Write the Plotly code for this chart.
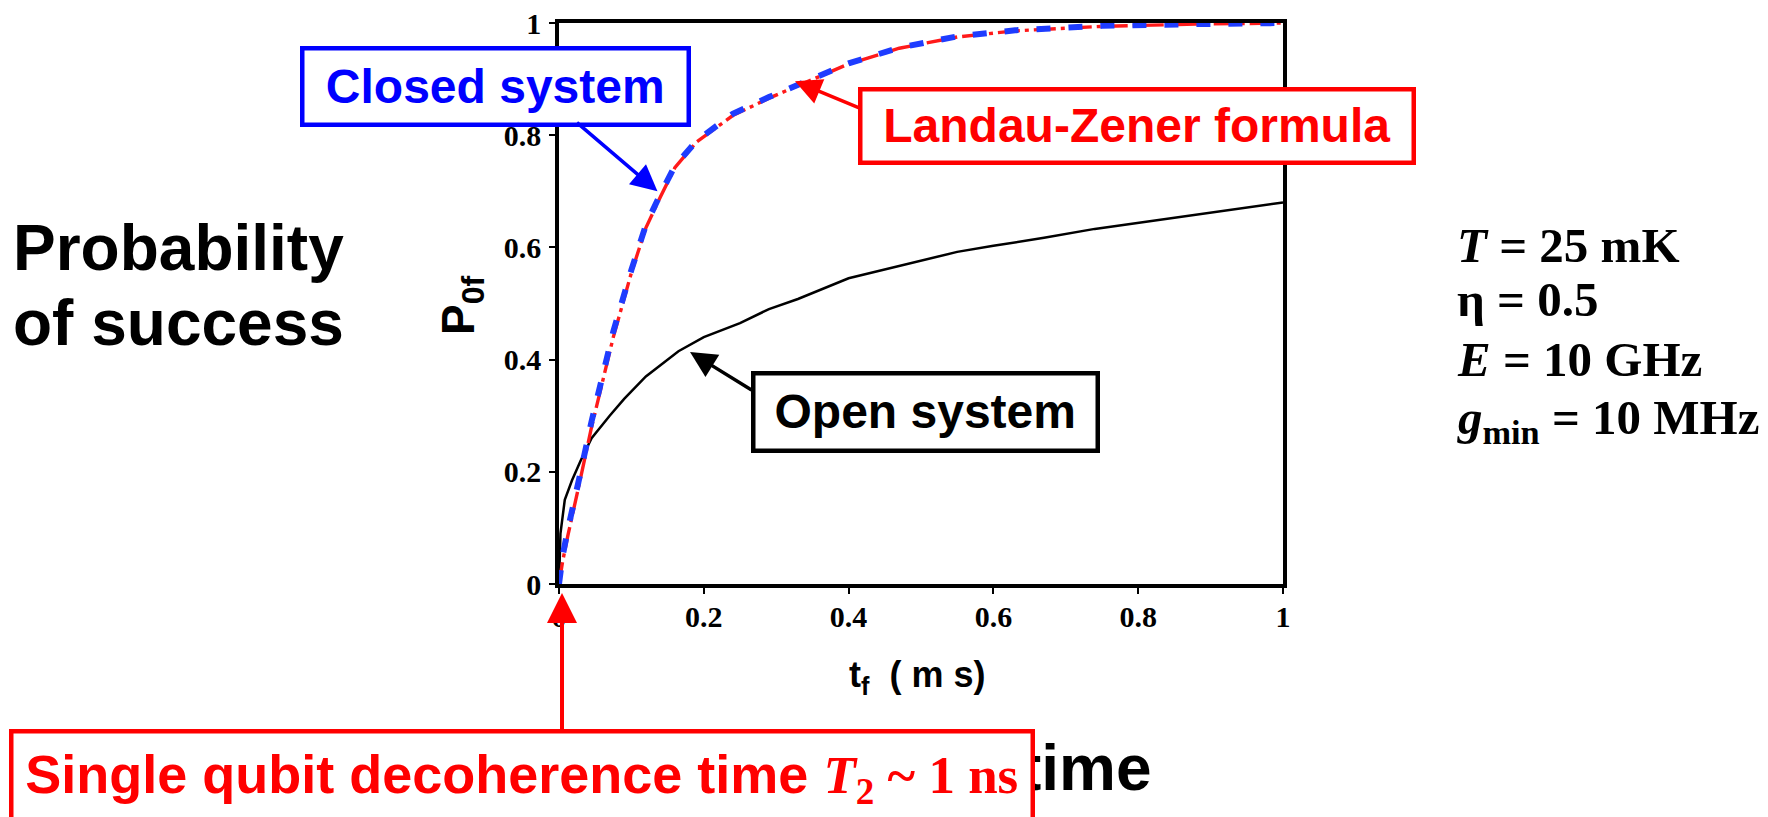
import plotly.graph_objects as go

# ---------------- data ----------------
open_x = [0, 0.002, 0.008, 0.018, 0.03, 0.045, 0.07, 0.09, 0.12, 0.165, 0.2, 0.25, 0.29, 0.33,
          0.4, 0.48, 0.55, 0.6, 0.67, 0.74, 0.85, 1.0]
open_y = [0, 0.09, 0.15, 0.185, 0.22, 0.26, 0.30, 0.33, 0.37, 0.415, 0.44, 0.465, 0.49, 0.508,
          0.545, 0.57, 0.592, 0.603, 0.617, 0.633, 0.653, 0.68]

closed_x = [0, 0.005, 0.012, 0.02, 0.03, 0.045, 0.06, 0.075, 0.1, 0.12, 0.14, 0.16, 0.19, 0.24,
            0.29, 0.33, 0.4, 0.47, 0.55, 0.63, 0.75, 0.88, 1.0]
closed_y = [0, 0.05, 0.096, 0.14, 0.2, 0.29, 0.37, 0.45, 0.56, 0.64, 0.695, 0.745, 0.79, 0.838,
            0.868, 0.89, 0.928, 0.956, 0.976, 0.987, 0.995, 0.998, 1.0]

lz_x = closed_x
lz_y = [0, 0.04, 0.085, 0.13, 0.19, 0.28, 0.36, 0.44, 0.555, 0.635, 0.69, 0.742, 0.788, 0.835,
        0.866, 0.888, 0.927, 0.955, 0.975, 0.986, 0.994, 0.998, 1.0]

tick_vals = [0, 0.2, 0.4, 0.6, 0.8, 1]
tick_text = ["0", "0.2", "0.4", "0.6", "0.8", "1"]

# ---------------- layout helpers (page pixel coordinates) ----------------
FW, FH = 1768, 817
OFF = 8            # default body margin of the html page
L, R, T, B = 559, 1283, 23, 584
W, H = R - L, B - T


def px(x):
    return (x - L) / W


def py(y):
    return (B - y) / H


SANS = "Liberation Sans, Arial, sans-serif"
SERIF = "Liberation Serif, Times New Roman, serif"
BLUE = "#0000ff"
RED = "#ff0000"

fig = go.Figure()
fig.add_trace(go.Scatter(x=open_x, y=open_y, mode="lines", name="Open system",
                         line=dict(color="black", width=2.5)))
fig.add_trace(go.Scatter(x=lz_x, y=lz_y, mode="lines", name="Landau-Zener formula",
                         line=dict(color="#ff1a1a", width=3.4, dash="22px,5px,4px,5px")))
fig.add_trace(go.Scatter(x=closed_x, y=closed_y, mode="lines", name="Closed system",
                         line=dict(color="#1e3cff", width=6, dash="14px,18px")))

ann = []

# big texts
ann.append(dict(text="Probability", x=px(11), y=py(248), xanchor="left", yanchor="middle",
                font=dict(family=SANS, size=64, color="black", weight="bold")))
ann.append(dict(text="of success", x=px(11), y=py(323), xanchor="left", yanchor="middle",
                font=dict(family=SANS, size=64, color="black", weight="bold")))
ann.append(dict(text="time", x=px(1018), y=py(768), xanchor="left", yanchor="middle",
                font=dict(family=SANS, size=64, color="black", weight="bold")))

# parameter list
params = [("<i>T</i> = 25 mK", 246), ("η = 0.5", 299), ("<i>E</i> = 10 GHz", 359),
          ("<i>g</i><sub>min</sub> = 10 MHz", 420)]
for txt, yy in params:
    ann.append(dict(text=txt, x=px(1455), y=py(yy), xanchor="left", yanchor="middle",
                    font=dict(family=SERIF, size=49, color="black", weight="bold")))

# axis titles
ann.append(dict(text="P<sub>0f</sub>", x=px(461), y=py(305), xanchor="center", yanchor="middle",
                textangle=-90, font=dict(family=SANS, size=46, color="black", weight="bold")))
ann.append(dict(text="t<sub>f</sub>  ( m s)", x=px(917), y=py(677), xanchor="center",
                yanchor="middle", font=dict(family=SANS, size=36, color="black", weight="bold")))


def box(text, x0, x1, y0, y1, color, size, bw=4.5):
    return dict(text=text, x=px((x0 + x1) / 2), y=py((y0 + y1) / 2), xanchor="center",
                yanchor="middle", width=x1 - x0 - bw, height=y1 - y0 - bw, borderpad=0,
                bordercolor=color, borderwidth=bw, bgcolor="white",
                font=dict(family=SANS, size=size, color=color, weight="bold"))


ann.append(box("Closed system", 302, 688, 48, 124, BLUE, 48))
ann.append(box("Landau-Zener formula", 860, 1413, 90, 163, RED, 48))
ann.append(box("Open system", 753, 1097, 373, 450, "black", 48))
ann.append(box("Single qubit decoherence time "
               "<span style='font-family:Liberation Serif, Times New Roman, serif;font-size:53px'>"
               "<i>T</i><sub>2</sub> ~ 1 ns</span>",
               11, 1032, 731, 825, RED, 54))


def arrow(xd, yd, ax, ay, color, width=3.5):
    return dict(text="", x=xd, y=yd, xref="x", yref="y", showarrow=True, ax=ax, ay=ay,
                arrowhead=2, arrowsize=1.5, arrowwidth=width, arrowcolor=color, standoff=0)


ann.append(arrow(0.136, 0.70, -82, -70, BLUE))
ann.append(arrow(0.326, 0.896, 65, 27, RED))
ann.append(arrow(0.181, 0.4135, 63, 39, "black"))
ann.append(dict(text="", x=px(562), y=py(593), xref="paper", yref="paper", showarrow=True,
                ax=0, ay=138, arrowhead=2, arrowsize=1.5, arrowwidth=4, arrowcolor=RED,
                standoff=0))

for a in ann:
    a.setdefault("xref", "paper")
    a.setdefault("yref", "paper")
    a.setdefault("showarrow", False)

axis_common = dict(range=[0, 1], tickvals=tick_vals, ticktext=tick_text, showgrid=False,
                   zeroline=False, showline=True, linecolor="black", linewidth=3.5,
                   mirror=True, ticks="outside", ticklen=6, tickwidth=1.5, tickcolor="black",
                   ticklabeloverflow="allow", automargin=False,
                   tickfont=dict(family=SERIF, size=30, color="black", weight="bold"))

fig.update_layout(
    width=FW - OFF, height=FH - OFF,
    margin=dict(l=L - OFF, r=FW - R, t=T - OFF, b=FH - B, pad=0, autoexpand=False),
    paper_bgcolor="white", plot_bgcolor="white",
    showlegend=False,
    xaxis=dict(**axis_common, ticklabelstandoff=-3),
    yaxis=dict(**axis_common, ticklabelstandoff=2),
    annotations=ann,
)

fig.write_html("out.html")
